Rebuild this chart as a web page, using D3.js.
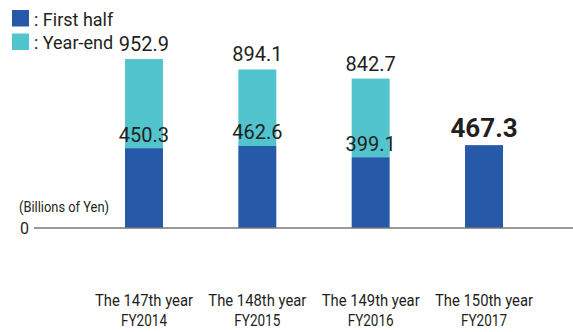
<!DOCTYPE html>
<html>
<head>
<meta charset="utf-8">
<script src="https://cdn.jsdelivr.net/npm/d3@7"></script>
<style>
  html, body { margin: 0; padding: 0; background: #fff; }
  svg { display: block; }
  text { font-family: Roboto, "Liberation Sans", sans-serif; fill: #231f20; }
</style>
</head>
<body>
<svg id="chart" width="573" height="332"></svg>
<script>
// Net sales by fiscal year, billions of yen
const years = ["The 147th year", "The 148th year", "The 149th year", "The 150th year"];
const fiscal = ["FY2014", "FY2015", "FY2016", "FY2017"];
const firstHalf = [450.3, 462.6, 399.1, 467.3];
const yearEnd = [952.9, 894.1, 842.7, null];
const legendLabels = [": First half", ": Year-end"];
const unitLabel = "(Billions of Yen)";

const blue = "#2659a8";
const cyan = "#52c4ce";

const svg = d3.select("#chart");

const x = d3.scaleBand()
  .domain(years)
  .range([125, 503])
  .paddingInner(0.665)
  .paddingOuter(0);

const y = d3.scaleLinear()
  .domain([0, 1000])
  .range([228, 228 - 177.3]);

const rows = years.map((yr, i) => ({ yr, fy: fiscal[i], h: firstHalf[i], e: yearEnd[i] }));

// Year-end portion (cyan), stacked on the first half
svg.append("g").selectAll("rect")
  .data(rows.filter(d => d.e != null))
  .join("rect")
  .attr("x", d => x(d.yr))
  .attr("width", x.bandwidth())
  .attr("y", d => y(d.e))
  .attr("height", d => y(d.h) - y(d.e))
  .attr("fill", cyan);

// First-half segments (blue)
svg.append("g").selectAll("rect")
  .data(rows)
  .join("rect")
  .attr("x", d => x(d.yr))
  .attr("width", x.bandwidth())
  .attr("y", d => y(d.h))
  .attr("height", d => y(0) - y(d.h))
  .attr("fill", blue);

// Baseline axis with the zero tick
const axis = d3.axisLeft(y).tickValues([0]).tickSize(0).tickPadding(6);
const ag = svg.append("g").attr("transform", "translate(34,0)").call(axis);
ag.select(".domain").remove();
ag.selectAll(".tick text")
  .attr("font-size", 16)
  .attr("font-family", "Roboto, sans-serif")
  .attr("fill", "#231f20")
  .attr("dy", "0.32em")
  .attr("x", -5);
svg.append("line")
  .attr("x1", 34).attr("x2", 573)
  .attr("y1", y(0)).attr("y2", y(0))
  .attr("stroke", "#777").attr("stroke-width", 1.5);

svg.append("text")
  .attr("x", 19).attr("y", 212)
  .attr("font-size", 15.5)
  .attr("textLength", 90)
  .attr("lengthAdjust", "spacingAndGlyphs")
  .text(unitLabel);

// Value labels
const cx = d => x(d.yr) + x.bandwidth() / 2;

svg.append("g").selectAll("text")
  .data(rows.filter(d => d.e != null))
  .join("text")
  .attr("x", cx)
  .attr("y", d => y(d.e) - 8)
  .attr("text-anchor", "middle")
  .attr("font-size", 20)
  .text(d => d.e.toFixed(1));

svg.append("g").selectAll("text")
  .data(rows)
  .join("text")
  .attr("x", cx)
  .attr("y", d => d.e != null ? y(d.h) - 6.5 : y(d.h) - 8)
  .attr("text-anchor", "middle")
  .attr("font-size", d => d.e != null ? 20 : 26)
  .attr("font-weight", d => d.e != null ? 400 : 700)
  .text(d => d.h.toFixed(1));

// Category labels under the axis
const cat = svg.append("g").selectAll("g")
  .data(rows)
  .join("g")
  .attr("transform", d => `translate(${cx(d)},0)`);
cat.append("text")
  .attr("y", 305.5)
  .attr("text-anchor", "middle")
  .attr("font-size", 17)
  .attr("textLength", 98)
  .attr("lengthAdjust", "spacingAndGlyphs")
  .text(d => d.yr);
cat.append("text")
  .attr("y", 326)
  .attr("text-anchor", "middle")
  .attr("font-size", 17)
  .attr("textLength", 46)
  .attr("lengthAdjust", "spacingAndGlyphs")
  .text(d => d.fy);

// Legend
const legend = svg.append("g");
[blue, cyan].forEach((c, i) => {
  legend.append("rect")
    .attr("x", 12).attr("y", 10 + i * 23.5)
    .attr("width", 17).attr("height", 16.5)
    .attr("fill", c);
  legend.append("text")
    .attr("x", 34).attr("y", 26 + i * 23)
    .attr("font-size", 18)
    .text(legendLabels[i]);
});
</script>
</body>
</html>
